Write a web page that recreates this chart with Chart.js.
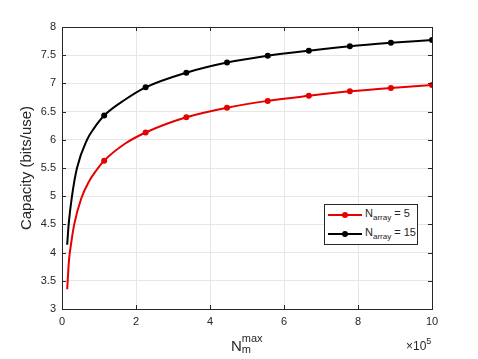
<!DOCTYPE html>
<html>
<head>
<meta charset="utf-8">
<script src="https://cdn.jsdelivr.net/npm/chart.js@4.4.0/dist/chart.umd.min.js"></script>
<style>
  body { margin: 0; background: #fff; }
  #wrap { position: relative; width: 478px; height: 359px; font-family: 'Liberation Sans', Arial, Helvetica, sans-serif; color: #262626; }
  #chart { position: absolute; left: 0; top: 0; }
  .xlabel { position: absolute; left: 231px; top: 333px; font-size: 15px; line-height: 1; }
  .xlabel .n { display: inline-block; vertical-align: top; margin-top: 5px; }
  .xlabel .scripts { display: inline-block; vertical-align: top; font-size: 11px; line-height: 11px; }
  .exp { position: absolute; left: 406px; top: 337px; font-size: 12px; }
  .exp sup { font-size: 9px; position: relative; top: -1px; }
  .legend { position: absolute; left: 324px; top: 204px; width: 92px; height: 39px; border: 1px solid #262626; background: #fff; font-size: 11px; }
  .row { position: absolute; left: 3px; height: 16px; }
  .row .line { position: absolute; left: 0; top: 7px; width: 34px; height: 2px; }
  .row .dot { position: absolute; left: 14px; top: 5px; width: 6px; height: 6px; border-radius: 50%; }
  .row .txt { position: absolute; left: 37px; top: 0; white-space: nowrap; }
  .row sub { font-size: 8px; vertical-align: -3px; }
</style>
</head>
<body>
<div id="wrap">
  <canvas id="chart" width="478" height="359"></canvas>
  <div class="xlabel"><span class="n">N</span><span class="scripts">max<br>m</span></div>
  <div class="exp">&times;10<sup>5</sup></div>
  <div class="legend" id="legend"></div>
</div>
<script>
// x values in units of 1e5
const redX = [0.14, 0.19, 0.26, 0.33, 0.52, 0.72, 0.93, 1.14, 1.7, 2.26, 3.36, 4.46, 5.56, 6.67, 7.78, 8.89, 10];
const redY = [3.35, 3.87, 4.22, 4.5, 4.96, 5.25, 5.46, 5.63, 5.93, 6.13, 6.40, 6.57, 6.69, 6.78, 6.86, 6.92, 6.97];
const blackX = [0.14, 0.18, 0.27, 0.405, 0.676, 0.85, 1.14, 1.7, 2.26, 3.36, 4.46, 5.56, 6.67, 7.78, 8.89, 10];
const blackY = [4.14, 4.5, 5.0, 5.5, 6.0, 6.19, 6.43, 6.71, 6.93, 7.19, 7.37, 7.49, 7.58, 7.66, 7.72, 7.77];
const markerX = [1.14, 2.26, 3.36, 4.46, 5.56, 6.67, 7.78, 8.89, 10];
const seriesLabels = ['5', '15'];
const seriesColors = ['#e60000', '#000000'];

const toPoints = (xs, ys) => xs.map((x, i) => ({ x: x, y: ys[i] }));
const markerRadius = ctx => (ctx.raw && markerX.includes(ctx.raw.x)) ? 3 : 0;

// inward ticks on all four sides + box, MATLAB style
const boxTicks = {
    id: 'boxTicks',
    afterDatasetsDraw(chart) {
        const { ctx, chartArea: a, scales } = chart;
        ctx.save();
        ctx.strokeStyle = '#262626';
        ctx.lineWidth = 1;
        ctx.beginPath();
        scales.x.ticks.forEach(t => {
            const px = Math.round(scales.x.getPixelForValue(t.value)) + 0.5;
            ctx.moveTo(px, a.bottom); ctx.lineTo(px, a.bottom - 4);
            ctx.moveTo(px, a.top); ctx.lineTo(px, a.top + 4);
        });
        scales.y.ticks.forEach(t => {
            const py = Math.round(scales.y.getPixelForValue(t.value)) + 0.5;
            ctx.moveTo(a.left, py); ctx.lineTo(a.left + 4, py);
            ctx.moveTo(a.right, py); ctx.lineTo(a.right - 4, py);
        });
        ctx.stroke();
        ctx.strokeRect(Math.round(a.left) + 0.5, Math.round(a.top) + 0.5,
            Math.round(a.right - a.left), Math.round(a.bottom - a.top));
        ctx.restore();
    }
};

const font = { family: "'Liberation Sans', Arial, Helvetica, sans-serif", size: 11 };

new Chart(document.getElementById('chart'), {
    type: 'line',
    data: {
        datasets: [
            {
                label: 'N_array = ' + seriesLabels[0],
                data: toPoints(redX, redY),
                borderColor: seriesColors[0],
                backgroundColor: seriesColors[0],
                borderWidth: 2,
                pointRadius: markerRadius,
                pointHoverRadius: markerRadius,
                pointBorderWidth: 0,
                cubicInterpolationMode: 'monotone'
            },
            {
                label: 'N_array = ' + seriesLabels[1],
                data: toPoints(blackX, blackY),
                borderColor: seriesColors[1],
                backgroundColor: seriesColors[1],
                borderWidth: 2,
                pointRadius: markerRadius,
                pointHoverRadius: markerRadius,
                pointBorderWidth: 0,
                cubicInterpolationMode: 'monotone'
            }
        ]
    },
    options: {
        responsive: false,
        animation: false,
        layout: { padding: { top: 27, right: 46, left: 0, bottom: 0 } },
        plugins: { legend: { display: false }, tooltip: { enabled: false } },
        scales: {
            x: {
                type: 'linear',
                min: 0, max: 10,
                ticks: { stepSize: 2, color: '#262626', font: font, padding: 6, maxRotation: 0 },
                grid: { color: '#e6e6e6', drawTicks: false },
                border: { display: false },
                afterFit: s => { s.height = 50; }
            },
            y: {
                min: 3, max: 8,
                ticks: { stepSize: 0.5, color: '#262626', font: font, padding: 6, callback: v => String(v) },
                grid: { color: '#e6e6e6', drawTicks: false },
                border: { display: false },
                title: {
                    display: true,
                    text: 'Capacity (bits/use)',
                    color: '#262626',
                    font: { family: font.family, size: 15 },
                    padding: { top: 18, bottom: 0 }
                },
                afterFit: s => { s.width = 62; }
            }
        }
    },
    plugins: [boxTicks]
});

// legend
const legend = document.getElementById('legend');
seriesLabels.forEach((lab, i) => {
    const row = document.createElement('div');
    row.className = 'row';
    row.style.top = (2 + i * 19) + 'px';
    row.innerHTML = '<div class="line" style="background:' + seriesColors[i] + '"></div>' +
        '<div class="dot" style="background:' + seriesColors[i] + '"></div>' +
        '<div class="txt">N<sub>array</sub> = ' + lab + '</div>';
    legend.appendChild(row);
});
</script>
</body>
</html>
